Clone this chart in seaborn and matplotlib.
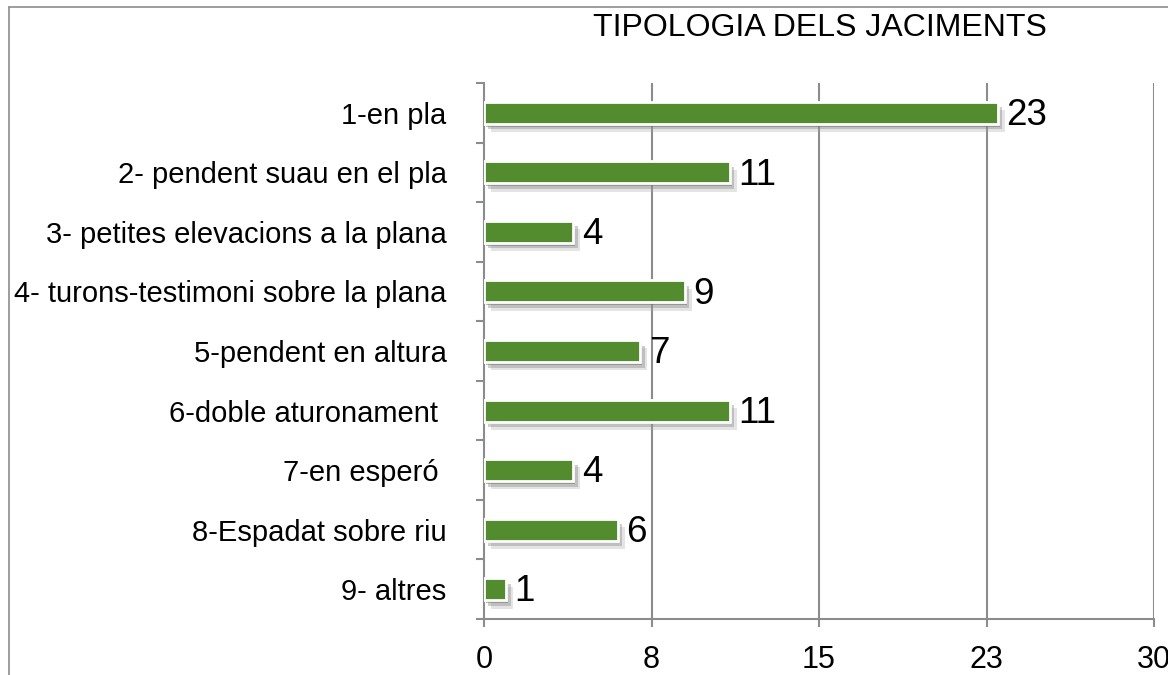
import matplotlib
matplotlib.use("Agg")
import matplotlib.pyplot as plt
import matplotlib.patheffects as pe
from matplotlib.lines import Line2D
from matplotlib.ticker import FixedLocator
import seaborn as sns
import pandas as pd

categories = [
    "1-en pla",
    "2- pendent suau en el pla",
    "3- petites elevacions a la plana",
    "4- turons-testimoni sobre la plana",
    "5-pendent en altura",
    "6-doble aturonament ",
    "7-en esperó ",
    "8-Espadat sobre riu",
    "9- altres",
]
counts = [23, 11, 4, 9, 7, 11, 4, 6, 1]
x_ticks = [0, 7.5, 15, 22.5, 30]
x_tick_labels = ["0", "8", "15", "23", "30"]
title = "TIPOLOGIA DELS JACIMENTS"

sns.set_theme(style="white")
plt.rcParams["font.family"] = ["Liberation Sans", "DejaVu Sans"]

df = pd.DataFrame({"tipologia": categories, "jaciments": counts})

fig = plt.figure(figsize=(11.68, 6.75), dpi=100)
ax = fig.add_axes([484 / 1168, 1 - 619 / 675, (1154 - 484) / 1168, (619 - 83) / 675])

grid_color = "#8c8c8c"
for xv in x_ticks[1:]:
    ax.axvline(xv, color=grid_color, lw=1.5, zorder=0)

sns.barplot(
    data=df, x="jaciments", y="tipologia", orient="h",
    color="#538B2F", saturation=1, width=0.37,
    edgecolor="white", linewidth=2, ax=ax, zorder=3,
)

shadow = [
    pe.SimplePatchShadow(offset=(5, -6), shadow_rgbFace="#a8a8a8", alpha=0.3),
    pe.SimplePatchShadow(offset=(3, -4), shadow_rgbFace="#888888", alpha=0.4),
    pe.SimplePatchShadow(offset=(1.5, -2), shadow_rgbFace="#666666", alpha=0.45),
    pe.Normal(),
]
for patch in ax.patches:
    patch.set_path_effects(shadow)

for cont in ax.containers:
    for ann in ax.bar_label(cont, fmt="%d", padding=6, fontsize=26.5, color="black"):
        ann.xyann = (6, -2)

ax.set_xlim(0, 30)
ax.set_ylim(len(categories) - 0.5, -0.5)
ax.set_xticks(x_ticks)
ax.set_xticklabels(x_tick_labels, fontsize=22, color="black")
ax.tick_params(axis="x", direction="out", length=6, width=1.5, color=grid_color, pad=13, bottom=True)

ax.yaxis.set_minor_locator(FixedLocator([i - 0.5 for i in range(len(categories) + 1)]))
ax.tick_params(axis="y", which="major", length=0, pad=27, labelsize=21, labelcolor="black")
ax.tick_params(axis="y", which="minor", direction="out", length=6, width=1.5, color=grid_color, left=True)

ax.set_xlabel("")
ax.set_ylabel("")
for side in ["top", "right"]:
    ax.spines[side].set_visible(False)
for side in ["left", "bottom"]:
    ax.spines[side].set_color(grid_color)
    ax.spines[side].set_linewidth(1.5)
    ax.spines[side].set_zorder(2)

fig.text(820 / 1168, 1 - 28 / 675, title, ha="center", va="center", fontsize=23, color="black")

# outer chart frame
fig.add_artist(Line2D([9 / 1168, 9 / 1168], [0, 1 - 7 / 675], transform=fig.transFigure, color="#8c8c8c", lw=1.2))
fig.add_artist(Line2D([9 / 1168, 1], [1 - 7 / 675, 1 - 7 / 675], transform=fig.transFigure, color="#8c8c8c", lw=1.2))

fig.savefig("out.png", dpi=100, facecolor="white")
